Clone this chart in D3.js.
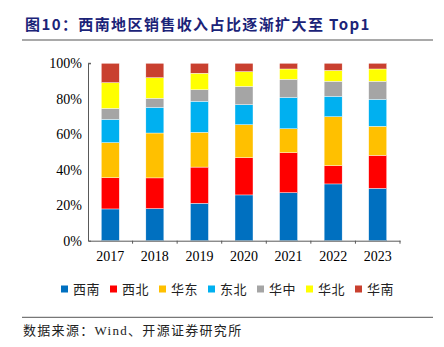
<html>
  <head>
    <meta charset="utf-8" />
    <script src="https://d3js.org/d3.v7.min.js"></script>
    <style>
      body { margin: 0; background: #fff; }
      .axis path, .axis line { stroke: #595959; }
      .axis text { font-family: "Liberation Serif", serif; font-size: 14px; fill: #000; }
    </style>
  </head>
  <body>
    <svg id="chart" width="444" height="347"></svg>
    <script>
      const years = ["2017", "2018", "2019", "2020", "2021", "2022", "2023"];
      const regions = ["西南", "西北", "华东", "东北", "华中", "华北", "华南"];
      const colors = ["#0070C0", "#FF0000", "#FFC000", "#00B0F0", "#A5A5A5", "#FFFF00", "#C9402F"];
      // share (%) of each region, per year
      const xinan = [17.9, 18.1, 21.1, 25.8, 27.1, 32.0, 29.5];
      const xibei = [17.6, 17.3, 20.4, 21.0, 22.5, 10.3, 18.6];
      const huadong = [19.8, 25.3, 19.6, 18.6, 13.5, 27.6, 16.4];
      const dongbei = [13.1, 14.5, 17.5, 11.3, 17.7, 11.5, 15.2];
      const huazhong = [6.2, 5.1, 6.5, 10.3, 10.2, 8.5, 10.2];
      const huabei = [14.5, 11.6, 9.3, 8.3, 5.8, 6.1, 6.9];
      const huanan = [10.9, 8.1, 5.6, 4.7, 3.2, 4.0, 3.2];
      const yTicks = [0, 20, 40, 60, 80, 100];

      const seriesVals = [xinan, xibei, huadong, dongbei, huazhong, huabei, huanan];
      const rows = years.map((y, i) => {
        const r = { year: y };
        regions.forEach((k, j) => (r[k] = seriesVals[j][i]));
        return r;
      });
      const stack = d3.stack().keys(regions).offset(d3.stackOffsetExpand)(rows);

      const svg = d3.select("svg#chart");

      // title
      svg.append("text")
        .attr("x", 25).attr("y", 30)
        .attr("font-family", "'Noto Sans CJK SC', 'Liberation Serif', serif")
        .attr("font-size", "15px").attr("font-weight", "bold")
        .attr("letter-spacing", "1.4px")
        .attr("fill", "#1B2378")
        .text("图10：西南地区销售收入占比逐渐扩大至 Top1");
      svg.append("line")
        .attr("x1", 22).attr("x2", 433).attr("y1", 40).attr("y2", 40)
        .attr("stroke", "#555").attr("stroke-width", 1.2);

      const x = d3.scaleBand().domain(years).range([88, 400]).paddingInner(0).paddingOuter(0);
      const y = d3.scaleLinear().domain([0, 1]).range([240.7, 63.3]);
      const barW = 18;

      svg.append("g")
        .selectAll("g")
        .data(stack)
        .join("g")
        .attr("fill", (d, i) => colors[i])
        .selectAll("rect")
        .data((d) => d)
        .join("rect")
        .attr("x", (d) => x(d.data.year) + (x.bandwidth() - barW) / 2)
        .attr("y", (d) => y(d[1]))
        .attr("width", barW)
        .attr("height", (d) => y(d[0]) - y(d[1]))
        .attr("stroke", "#fff")
        .attr("stroke-width", 0.4);

      // y axis
      svg.append("g")
        .attr("class", "axis")
        .attr("transform", "translate(88,0)")
        .call(d3.axisLeft(y).tickValues(yTicks.map((t) => t / 100)).tickFormat((d) => Math.round(d * 100) + "%").tickSizeInner(-3).tickSizeOuter(-3).tickPadding(6))
        .call((g) => g.selectAll(".tick line").remove());

      // x axis with boundary ticks
      const xAxis = svg.append("g")
        .attr("class", "axis")
        .attr("transform", "translate(0,240.7)")
        .call(d3.axisBottom(x).tickSize(0).tickSizeOuter(0).tickPadding(10));
      xAxis.selectAll(".bnd")
        .data(years.slice(1).concat(["end"]))
        .join("line")
        .attr("class", "bnd")
        .attr("x1", (d, i) => x(years[0]) + x.step() * (i + 1))
        .attr("x2", (d, i) => x(years[0]) + x.step() * (i + 1))
        .attr("y1", 0).attr("y2", 3);
      svg.append("line")
        .attr("x1", 88).attr("x2", 91).attr("y1", 63.3).attr("y2", 63.3)
        .attr("stroke", "#595959");

      // legend
      const legend = svg.append("g").attr("transform", "translate(61,289)");
      const li = legend.selectAll("g").data(regions).join("g")
        .attr("transform", (d, i) => `translate(${i * 49},0)`);
      li.append("rect").attr("x", 0).attr("y", -3.5).attr("width", 7).attr("height", 7)
        .attr("fill", (d, i) => colors[i]);
      li.append("text").attr("x", 12).attr("y", 5)
        .attr("font-family", "'Noto Sans CJK SC', sans-serif").attr("font-size", "13px")
        .attr("letter-spacing", "0.5px")
        .attr("fill", "#222").text((d) => d);

      // source
      svg.append("line")
        .attr("x1", 22).attr("x2", 433).attr("y1", 317.3).attr("y2", 317.3)
        .attr("stroke", "#555").attr("stroke-width", 1);
      svg.append("text")
        .attr("x", 23).attr("y", 335)
        .attr("font-family", "'Liberation Serif', 'Noto Sans CJK SC', serif")
        .attr("font-size", "13px").attr("fill", "#222")
        .attr("letter-spacing", "1.3px")
        .text("数据来源：Wind、开源证券研究所");
    </script>
  </body>
</html>
